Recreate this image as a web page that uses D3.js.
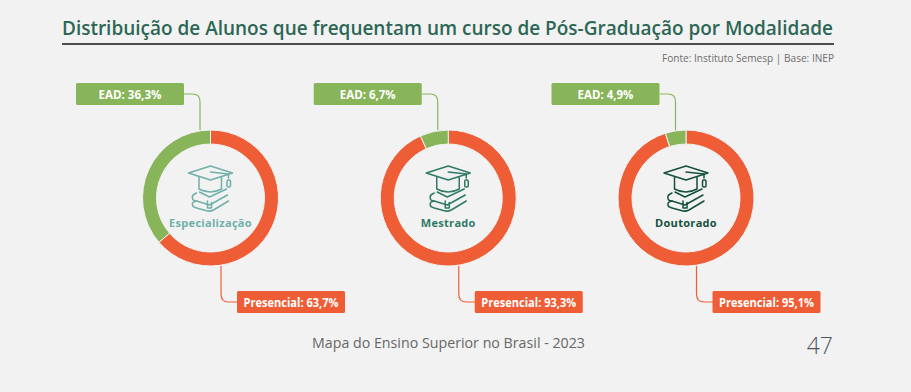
<!DOCTYPE html>
<html>
<head>
<meta charset="utf-8">
<script src="https://d3js.org/d3.v7.min.js"></script>
<style>
  html, body { margin: 0; padding: 0; background: #f2f2f2; }
  text { font-family: "Open Sans", sans-serif; }
</style>
</head>
<body>
<div id="chart"></div>
<script>
// data
var cursos = ["Especialização", "Mestrado", "Doutorado"];
var ead = [36.3, 6.7, 4.9];
var presencial = [63.7, 93.3, 95.1];
var corCurso = ["#6fb0a8", "#2f7a66", "#14503c"];

var w = 911;
var h = 392;
var verde = "#88b55a";
var laranja = "#ef5d36";

var svg = d3.select("#chart").append("svg")
    .attr("width", w)
    .attr("height", h)
    .style("display", "block");

svg.append("rect").attr("width", w).attr("height", h).attr("fill", "#f2f2f2");

// title, rule, source
svg.append("text")
    .attr("x", 62).attr("y", 34.5)
    .attr("font-size", 20.5)
    .attr("font-weight", 600)
    .attr("fill", "#2c6654")
    .attr("textLength", 771)
    .attr("lengthAdjust", "spacingAndGlyphs")
    .text("Distribuição de Alunos que frequentam um curso de Pós-Graduação por Modalidade");

svg.append("line")
    .attr("x1", 62).attr("x2", 834)
    .attr("y1", 44).attr("y2", 44)
    .attr("stroke", "#4d4d4d")
    .attr("stroke-width", 2);

svg.append("text")
    .attr("x", 834).attr("y", 62)
    .attr("text-anchor", "end")
    .attr("font-size", 11)
    .attr("fill", "#6d6d6d")
    .attr("textLength", 172)
    .attr("lengthAdjust", "spacingAndGlyphs")
    .text("Fonte: Instituto Semesp | Base: INEP");

// one donut per course
var xScale = d3.scalePoint().domain(cursos).range([210.5, 686]);
var cy = 198;

var pie = d3.pie().sort(null).value(function(d) { return d; });
var arc = d3.arc().innerRadius(54).outerRadius(68);

// order is presencial first so it starts at the top going clockwise
cursos.forEach(function(curso, i) {
    var cx = xScale(curso);
    var g = svg.append("g").attr("transform", "translate(" + cx + "," + cy + ")");

    g.selectAll("path.slice")
        .data(pie([presencial[i], ead[i]]))
        .enter()
        .append("path")
        .attr("class", "slice")
        .attr("d", arc)
        .attr("fill", function(d, j) { return j == 0 ? laranja : verde; })
        .attr("stroke", "#f2f2f2")
        .attr("stroke-width", 1);

    // leader lines
    g.append("path")
        .attr("d", "M-26.5,-104H-18Q-10.5,-104 -10.5,-96V-68")
        .attr("fill", "none").attr("stroke", verde).attr("stroke-width", 1.2);
    g.append("path")
        .attr("d", "M10.5,68V96Q10.5,104 18,104H28")
        .attr("fill", "none").attr("stroke", laranja).attr("stroke-width", 1.2);

    // label boxes
    g.append("rect")
        .attr("x", -134.5).attr("y", -115)
        .attr("width", 108).attr("height", 22).attr("rx", 1.5)
        .attr("fill", verde);
    g.append("text")
        .attr("x", -80.5).attr("y", -99.5)
        .attr("text-anchor", "middle")
        .attr("font-size", 11.5).attr("font-weight", 700).attr("fill", "#fff")
        .attr("textLength", String(ead[i]).length > 3 ? 63 : 56)
        .attr("lengthAdjust", "spacingAndGlyphs")
        .text("EAD: " + String(ead[i]).replace(".", ",") + "%");

    g.append("rect")
        .attr("x", 26.5).attr("y", 93)
        .attr("width", 108).attr("height", 22).attr("rx", 1.5)
        .attr("fill", laranja);
    g.append("text")
        .attr("x", 80.5).attr("y", 108.5)
        .attr("text-anchor", "middle")
        .attr("font-size", 11.5).attr("font-weight", 700).attr("fill", "#fff")
        .attr("textLength", 95)
        .attr("lengthAdjust", "spacingAndGlyphs")
        .text("Presencial: " + String(presencial[i]).replace(".", ",") + "%");

    // graduation cap on books
    var icon = g.append("g")
        .attr("fill", "none")
        .attr("stroke", corCurso[i])
        .attr("stroke-width", 1.5)
        .attr("stroke-linejoin", "round")
        .attr("stroke-linecap", "round");
    icon.append("path").attr("d", "M0,-32L-22,-25L0,-18L22,-25Z");
    icon.append("path").attr("d", "M-11.5,-21V-9Q0,-3 11,-9V-21");
    icon.append("path").attr("d", "M0,-26L18,-24V-20");
    icon.append("rect").attr("x", 16.5).attr("y", -18).attr("width", 3.5).attr("height", 7).attr("rx", 1.2);
    icon.append("path").attr("d", "M-14,-5Q-19,-3 -18,0Q-18,3 -14,3L-1,7L17,-3");
    icon.append("path").attr("d", "M-14,3Q-19,4 -18,7Q-18,9 -14,10L-3,13Q0,13.5 3,12L18,3");
    icon.append("path").attr("d", "M-11,-6L-1,-1L16,-9");
    icon.append("path").attr("d", "M-3,3V10H1V4.5");

    g.append("text")
        .attr("x", 0).attr("y", 29)
        .attr("text-anchor", "middle")
        .attr("font-size", 11)
        .attr("font-weight", 700)
        .attr("letter-spacing", 0.3)
        .attr("fill", corCurso[i])
        .text(curso);
});

// footer
svg.append("text")
    .attr("x", 312).attr("y", 348)
    .attr("font-size", 15)
    .attr("font-weight", 400)
    .attr("fill", "#666")
    .attr("textLength", 273)
    .attr("lengthAdjust", "spacingAndGlyphs")
    .text("Mapa do Ensino Superior no Brasil - 2023");

svg.append("text")
    .attr("x", 833).attr("y", 354)
    .attr("text-anchor", "end")
    .attr("font-size", 23)
    .attr("font-weight", 300)
    .attr("fill", "#4d5560")
    .text("47");
</script>
</body>
</html>
